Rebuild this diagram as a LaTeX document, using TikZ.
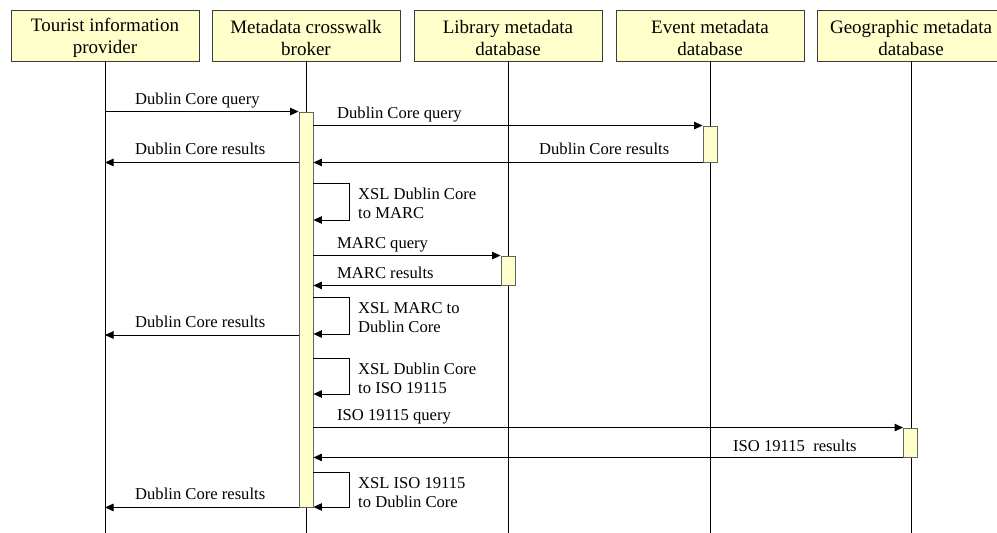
\documentclass[tikz,border=0pt]{standalone}
\usepackage{fontspec}
\setmainfont{Liberation Serif}
\usetikzlibrary{arrows.meta}
\definecolor{boxfill}{RGB}{255,255,204}
\definecolor{boxline}{RGB}{60,60,60}
\tikzset{
  hdr/.style={draw=boxline, fill=boxfill, line width=0.9pt, minimum width=188pt, minimum height=51pt,
    inner sep=0pt},
  hdrtxt/.style={inner sep=0pt, align=center, font=\fontsize{19}{22.5}\selectfont},
  act/.style={draw=boxline!80, fill=boxfill, line width=0.9pt, minimum width=14pt, inner sep=0pt},
  life/.style={line width=0.9pt},
  msg/.style={line width=0.9pt, -{Triangle[length=8.5pt,width=7.5pt]}},
  lbl/.style={anchor=base west, inner sep=0pt, font=\fontsize{16.6}{19}\selectfont}
}
\begin{document}
\begin{tikzpicture}[x=1pt,y=-1pt]
\useasboundingbox (0,0) rectangle (997,533);
\fill[white] (0,0) rectangle (997,533);
% headers
\node[hdr] (h1) at (105,35.5) {};
\node[hdr] (h2) at (306,35.5) {};
\node[hdr] (h3) at (508,35.5) {};
\node[hdr] (h4) at (710,35.5) {};
\node[hdr] (h5) at (911,35.5) {};
\node[hdrtxt] (t1) at ([yshift=-2.5pt]h1.center) {Tourist information\\provider};
\node[hdrtxt] (t2) at ([yshift=-2.5pt]h2.center) {Metadata crosswalk\\broker};
\node[hdrtxt] (t3) at ([yshift=-2.5pt]h3.center) {Library metadata\\database};
\node[hdrtxt] (t4) at ([yshift=-2.5pt]h4.center) {Event metadata\\database};
\node[hdrtxt] (t5) at ([yshift=-2.5pt]h5.center) {Geographic metadata\\database};
% lifelines
\coordinate (e1) at (105,540);
\coordinate (e2) at (306,540);
\coordinate (e3) at (508,540);
\coordinate (e4) at (710,540);
\coordinate (e5) at (911,540);
\draw[life] (h1.south) -- (e1);
\draw[life] (h2.south) -- (e2);
\draw[life] (h3.south) -- (e3);
\draw[life] (h4.south) -- (e4);
\draw[life] (h5.south) -- (e5);
% activation boxes
\node[act, minimum height=395pt] (a2) at (306,309.5) {};
\node[act, minimum height=36pt] (a4) at (710,144) {};
\node[act, minimum height=29pt] (a3) at (508,270.5) {};
\node[act, minimum height=29pt] (a5) at (910.5,442.5) {};
% messages
\draw[msg] (h1.south |- a2.north) -- (a2.north west);
\node[lbl] (l1) at (135,104) {Dublin Core query};
\draw[msg] (a2.east |- a4.north) -- (a4.north west);
\node[lbl] (l2) at (337,118) {Dublin Core query};
\draw[msg] (a2.west |- a4.south) -- (h1.south |- a4.south);
\node[lbl] (l3) at (135,154) {Dublin Core results};
\draw[msg] (a4.south west) -- (a2.east |- a4.south);
\node[lbl] (l4) at (539,154) {Dublin Core results};
% self 1
\coordinate (s1a) at (306,183);
\coordinate (s1b) at (306,220);
\draw[msg] (a2.east |- s1a) -- ++(36,0) |- (a2.east |- s1b);
\node[lbl] (l5a) at (358,199) {XSL Dublin Core};
\node[lbl] (l5b) at (358,218) {to MARC};
% MARC
\draw[msg] (a2.east |- a3.north) -- (a3.north west);
\node[lbl] (l6) at (337,248) {MARC query};
\draw[msg] (a3.south west) -- (a2.east |- a3.south);
\node[lbl] (l7) at (337,278) {MARC results};
% self 2
\coordinate (s2a) at (306,297);
\coordinate (s2b) at (306,334);
\draw[msg] (a2.east |- s2a) -- ++(36,0) |- (a2.east |- s2b);
\node[lbl] (l8a) at (358,313) {XSL MARC to};
\node[lbl] (l8b) at (358,332) {Dublin Core};
\coordinate (m9) at (306,335);
\draw[msg] (a2.west |- m9) -- (h1.south |- m9);
\node[lbl] (l9) at (135,327) {Dublin Core results};
% self 3
\coordinate (s3a) at (306,358);
\coordinate (s3b) at (306,394);
\draw[msg] (a2.east |- s3a) -- ++(36,0) |- (a2.east |- s3b);
\node[lbl] (l10a) at (358,374) {XSL Dublin Core};
\node[lbl] (l10b) at (358,393) {to ISO 19115};
% ISO
\draw[msg] (a2.east |- a5.north) -- (a5.north west);
\node[lbl] (l11) at (337,420) {ISO 19115 query};
\draw[msg] (a5.south west) -- (a2.east |- a5.south);
\node[lbl] (l12) at (733,451) {ISO 19115\ \ results};
% self 4
\coordinate (s4a) at (306,472);
\coordinate (s4b) at (306,507);
\draw[msg] (a2.east |- s4a) -- ++(36,0) |- (a2.east |- s4b);
\node[lbl] (l13a) at (358,488) {XSL ISO 19115};
\node[lbl] (l13b) at (358,507) {to Dublin Core};
\draw[msg] (a2.south west) -- (h1.south |- a2.south);
\node[lbl] (l14) at (135,499) {Dublin Core results};
\end{tikzpicture}
\end{document}
